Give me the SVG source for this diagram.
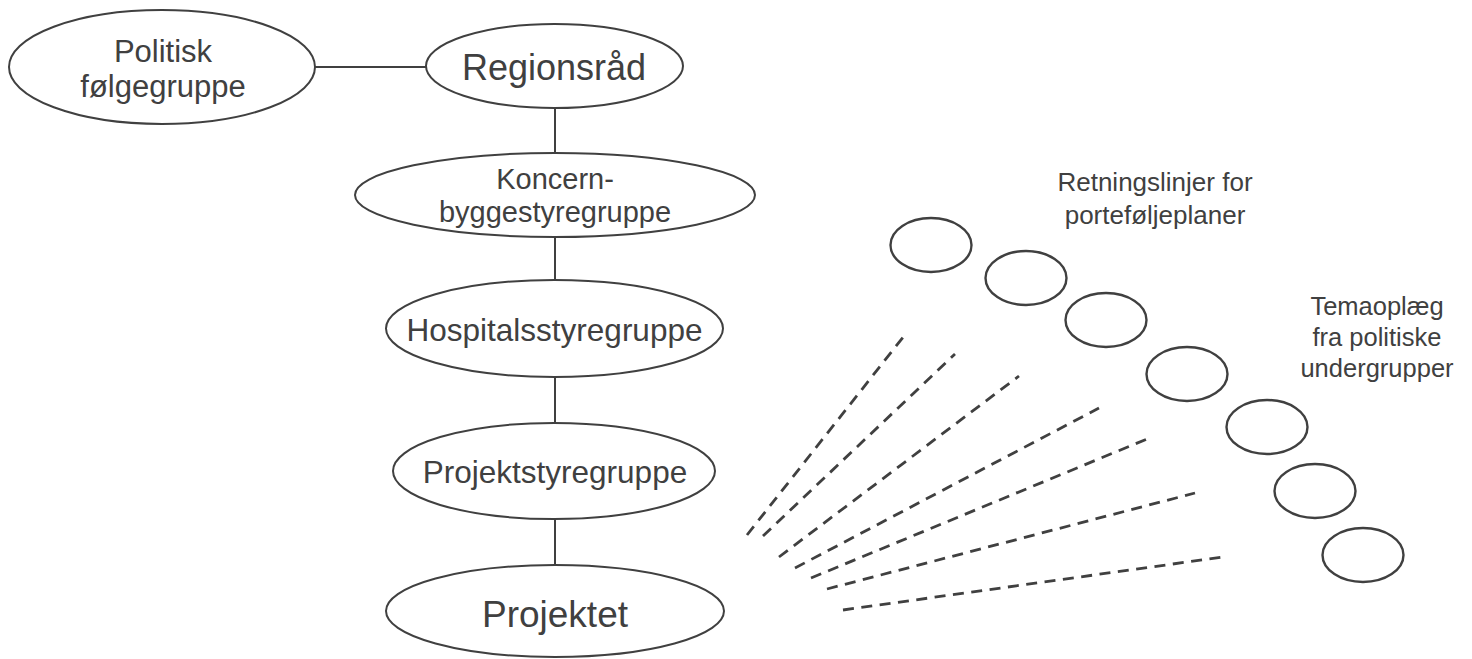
<svg xmlns="http://www.w3.org/2000/svg" width="1472" height="659" viewBox="0 0 1472 659">
<style>
.n{fill:#fff;stroke:#404040;stroke-width:2}
.s{fill:none;stroke:#404040;stroke-width:2.4}
.c{stroke:#404040;stroke-width:2;fill:none}
.d{stroke:#404040;stroke-width:2.8;fill:none;stroke-dasharray:11 7.5}
text{font-family:"Liberation Sans",Arial,sans-serif;fill:#404040;text-anchor:middle}
</style>
<rect width="1472" height="659" fill="#fff"/>
<g id="connectors">
<line class="c" x1="315" y1="67" x2="426" y2="67"/>
<line class="c" x1="555" y1="108" x2="555" y2="153"/>
<line class="c" x1="555" y1="237" x2="555" y2="280"/>
<line class="c" x1="555" y1="377" x2="555" y2="423"/>
<line class="c" x1="555" y1="519" x2="555" y2="565"/>
<line class="d" x1="747" y1="535" x2="904" y2="336"/>
<line class="d" x1="763" y1="536" x2="955" y2="354"/>
<line class="d" x1="779" y1="557" x2="1019" y2="376"/>
<line class="d" x1="795" y1="568" x2="1099" y2="408"/>
<line class="d" x1="811" y1="578" x2="1147" y2="439"/>
<line class="d" x1="827" y1="589" x2="1195" y2="493"/>
<line class="d" x1="843" y1="610" x2="1223" y2="557"/>
</g>
<g id="politisk">
<ellipse class="n" cx="162" cy="67" rx="153" ry="57"/>
<text x="163" y="62" font-size="31">Politisk</text>
<text x="163" y="97" font-size="31">følgegruppe</text>
</g>
<g id="regionsraad">
<ellipse class="n" cx="554.5" cy="66" rx="128.5" ry="42"/>
<text x="554" y="80" font-size="36">Regionsråd</text>
</g>
<g id="koncern">
<ellipse class="n" cx="555" cy="195" rx="200" ry="42"/>
<text x="555" y="189" font-size="29">Koncern-</text>
<text x="555" y="222" font-size="29">byggestyregruppe</text>
</g>
<g id="hospital">
<ellipse class="n" cx="554.5" cy="328.5" rx="168.5" ry="48.5"/>
<text x="554.5" y="341" font-size="31.5">Hospitalsstyregruppe</text>
</g>
<g id="projektstyregruppe">
<ellipse class="n" cx="554" cy="471" rx="161" ry="48"/>
<text x="555" y="483" font-size="31.5">Projektstyregruppe</text>
</g>
<g id="projektet">
<ellipse class="n" cx="555" cy="611" rx="169" ry="46"/>
<text x="555" y="627" font-size="37">Projektet</text>
</g>
<g id="small1"><ellipse class="s" cx="931" cy="245" rx="40.5" ry="27"/></g>
<g id="small2"><ellipse class="s" cx="1026" cy="278" rx="40.5" ry="27"/></g>
<g id="small3"><ellipse class="s" cx="1106" cy="320" rx="40.5" ry="27"/></g>
<g id="small4"><ellipse class="s" cx="1187" cy="374" rx="40.5" ry="27"/></g>
<g id="small5"><ellipse class="s" cx="1267" cy="427" rx="40.5" ry="27"/></g>
<g id="small6"><ellipse class="s" cx="1315" cy="491" rx="40.5" ry="27"/></g>
<g id="small7"><ellipse class="s" cx="1363" cy="555" rx="40.5" ry="27"/></g>
<g id="label-retningslinjer">
<text x="1155" y="191" font-size="26">Retningslinjer for</text>
<text x="1155" y="224" font-size="26">porteføljeplaner</text>
</g>
<g id="label-temaoplaeg">
<text x="1377" y="315" font-size="25.5">Temaoplæg</text>
<text x="1377" y="346" font-size="25.5">fra politiske</text>
<text x="1377" y="377" font-size="25.5">undergrupper</text>
</g>
</svg>
